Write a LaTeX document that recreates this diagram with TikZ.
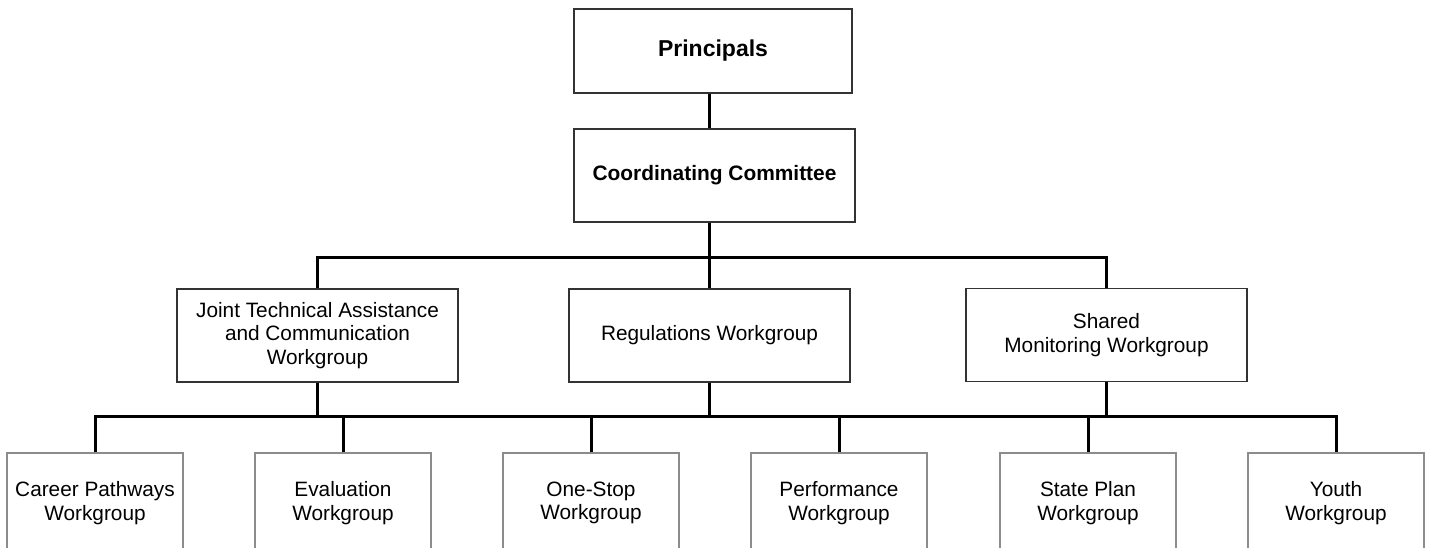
\documentclass[tikz,border=0pt]{standalone}
\usepackage{fontspec}
\setmainfont{Liberation Sans}
\begin{document}
\begin{tikzpicture}[x=1pt,y=-1pt,
  box/.style={draw=black!80, line width=1.4pt, fill=white, minimum width=281pt, minimum height=93pt,
    align=center, inner sep=0pt, font=\fontsize{20.8}{23.5}\selectfont},
  lbox/.style={draw=black!45, line width=1.2pt, fill=white, minimum width=176pt, minimum height=100pt,
    align=center, inner sep=0pt, font=\fontsize{20.8}{23.5}\selectfont},
  conn/.style={line width=3pt, draw=black, line join=miter}]
\useasboundingbox (0,0) rectangle (1429,548);
\clip (0,0) rectangle (1429,548);
\fill[white] (0,0) rectangle (1429,548);
\coordinate (bus1) at (709,257);
\coordinate (bus2) at (709,416);
% nodes
\node[box, minimum width=278pt, minimum height=84pt, font=\bfseries\fontsize{23}{26}\selectfont] (pr) at (713,51) {Principals};
\node[box, font=\bfseries\fontsize{20.9}{24}\selectfont] (cc) at (714.5,175.5) {Coordinating Committee};
\node[box] (jt) at (317.5,335.5) {Joint Technical Assistance\\and Communication\\Workgroup};
\node[box] (rg) at (709.5,335.5) {Regulations Workgroup};
\node[box] (sm) at (1106.5,335) {Shared\\Monitoring Workgroup};
\node[lbox] (c1) at (95,503) {Career Pathways\\Workgroup};
\node[lbox] (c2) at (343,503) {Evaluation\\Workgroup};
\node[lbox] (c3) at (591,503) {One-Stop\\Workgroup};
\node[lbox] (c4) at (839,503) {Performance\\Workgroup};
\node[lbox] (c5) at (1088,503) {State Plan\\Workgroup};
\node[lbox] (c6) at (1336,503) {Youth\\Workgroup};
% connectors
\draw[conn] (pr.south -| bus1) -- (cc.north -| bus1);
\draw[conn] (cc.south -| bus1) -- (rg.north -| bus1);
\draw[conn] (jt.north) |- (bus1) -| (sm.north);
\draw[conn] (jt.south) -- (jt.south |- bus2);
\draw[conn] (rg.south -| bus2) -- (bus2);
\draw[conn] (sm.south) -- (sm.south |- bus2);
\draw[conn] (c1.north) |- (bus2) -| (c6.north);
\draw[conn] (c2.north) -- (c2.north |- bus2);
\draw[conn] (c3.north) -- (c3.north |- bus2);
\draw[conn] (c4.north) -- (c4.north |- bus2);
\draw[conn] (c5.north) -- (c5.north |- bus2);
\end{tikzpicture}
\end{document}
